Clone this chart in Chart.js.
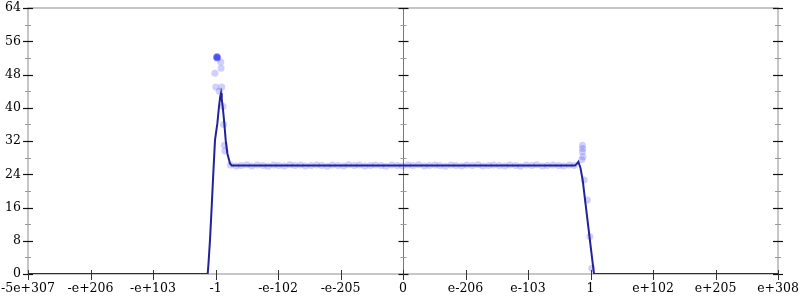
<!DOCTYPE html>
<html>
<head>
<meta charset="utf-8">
<script src="https://cdn.jsdelivr.net/npm/chart.js@4/dist/chart.umd.min.js"></script>
<style>
  html,body{margin:0;padding:0;background:#fff;}
  #c{display:block;}
</style>
</head>
<body>
<canvas id="c" width="800" height="300"></canvas>
<script>
// ====== Data ======
// x is in "tick slot" units: 0 = -5e+307 ... 6 = 0 ... 12 = e+308
const xTickLabels = ['-5e+307','-e+206','-e+103','-1','-e-102','-e-205','0','e-206','e-103','1','e+102','e+205','e+308'];
const yTicks = [0, 8, 16, 24, 32, 40, 48, 56, 64];
const yMinor = [4, 12, 20, 28, 36, 44, 52, 60];

// mean curve
const lineX = [0, 2.875, 2.89, 2.912, 2.939, 2.965, 2.992, 3.03, 3.056, 3.075, 3.088, 3.1, 3.115, 3.141, 3.163, 3.19, 3.232, 3.26, 6, 8.752, 8.78, 8.805, 8.84, 8.875, 8.939, 9.003, 9.056, 12];
const lineY = [0, 0, 3, 8.2, 16.2, 24.2, 32.2, 36.3, 40.3, 42.6, 43.5, 42.0, 40.3, 36.3, 32.2, 29.0, 26.6, 26.1, 26.1, 26.1, 26.5, 27.0, 25.5, 22.6, 14.6, 6.6, 0, 0];

// raw samples
const sampleX = [
  3.02, 3.025, 3.03, 3.015, 3.035, 3.02, 3.028,
  2.99, 3.085, 3.09, 3.005, 3.10, 3.12, 3.13, 3.14, 3.15, 3.06,
  3.24, 3.33, 3.41, 3.50, 3.58, 3.67, 3.76, 3.84, 3.93, 4.01, 4.10, 4.19, 4.27, 4.36, 4.44, 4.53,
  4.62, 4.70, 4.79, 4.87, 4.96, 5.05, 5.13, 5.22, 5.30, 5.39, 5.48, 5.56, 5.65, 5.73, 5.82, 5.91,
  5.99, 6.08, 6.16, 6.25, 6.34, 6.42, 6.51, 6.59, 6.68, 6.77, 6.85, 6.94, 7.02, 7.11, 7.20, 7.28,
  7.37, 7.45, 7.54, 7.63, 7.71, 7.80, 7.88, 7.97, 8.06, 8.14, 8.23, 8.31, 8.40, 8.49, 8.57, 8.66, 8.74,
  8.87, 8.875, 8.87, 8.88, 8.86, 8.90, 8.95, 8.99, 9.02
];
const sampleY = [
  52.3, 52.1, 52.3, 52.2, 52.0, 51.9, 52.2,
  48.3, 51.0, 49.5, 45.0, 45.0, 40.3, 36.0, 31.0, 29.6, 44.0,
  26.2, 26.0, 26.1, 26.3, 26.0, 26.2, 26.1, 25.9, 26.2, 26.1, 26.0, 26.3, 26.1, 26.2, 26.0, 26.1,
  26.2, 26.1, 25.9, 26.2, 26.1, 26.0, 26.3, 26.1, 26.2, 26.0, 26.1, 26.2, 26.1, 25.9, 26.2, 26.1,
  26.0, 26.2, 26.1, 26.3, 26.0, 26.1, 26.2, 26.1, 25.9, 26.2, 26.1, 26.0, 26.2, 26.1, 26.3, 26.0,
  26.1, 26.2, 26.1, 26.0, 26.2, 26.1, 25.9, 26.2, 26.1, 26.3, 26.0, 26.1, 26.2, 26.1, 26.0, 26.2, 26.1,
  31.0, 30.2, 29.4, 28.2, 27.5, 22.6, 17.8, 9.0, 1.4
];

// ====== Axis decorations ======
const axisDeco = {
  id: 'axisDeco',
  beforeDatasetsDraw(chart){
    const {ctx, chartArea: a, scales:{x, y}} = chart;
    ctx.save();
    // frame
    ctx.strokeStyle = '#b4b4b4'; ctx.lineWidth = 1.5;
    ctx.strokeRect(a.left, a.top, a.right - a.left, a.bottom - a.top);
    // middle axis at 0
    const xm = Math.round(x.getPixelForValue(6)) + 0.5;
    ctx.strokeStyle = '#777'; ctx.lineWidth = 1;
    ctx.beginPath(); ctx.moveTo(xm, a.top); ctx.lineTo(xm, a.bottom); ctx.stroke();

    const vAxes = [a.left, xm, a.right];
    vAxes.forEach(ax => {
      ctx.strokeStyle = '#999'; ctx.lineWidth = 1;
      yMinor.forEach(v => {
        const py = Math.round(y.getPixelForValue(v)) + 0.5;
        ctx.beginPath(); ctx.moveTo(ax - 3, py); ctx.lineTo(ax + 3, py); ctx.stroke();
      });
      ctx.strokeStyle = '#111'; ctx.lineWidth = 1.2;
      yTicks.forEach(v => {
        const py = Math.round(y.getPixelForValue(v)) + 0.5;
        ctx.beginPath(); ctx.moveTo(ax - 5, py); ctx.lineTo(ax + 5, py); ctx.stroke();
      });
    });
    // bottom ticks
    ctx.strokeStyle = '#333'; ctx.lineWidth = 1;
    xTickLabels.forEach((_, i) => {
      const px = Math.round(x.getPixelForValue(i)) + 0.5;
      ctx.beginPath(); ctx.moveTo(px, a.bottom - 4); ctx.lineTo(px, a.bottom + 6); ctx.stroke();
    });
    ctx.restore();
  }
};

// no auto padding for edge labels, layout.padding decides the plot box
function noPad(s){ s.paddingLeft = 0; s.paddingRight = 0; s.paddingTop = 0; s.paddingBottom = 0; }

// ====== Chart ======
const font = { family: '"DejaVu Serif", serif', size: 12.5 };

new Chart(document.getElementById('c'), {
  type: 'scatter',
  data: {
    datasets: [
      {
        type: 'scatter',
        data: sampleX.map((v, i) => ({ x: v, y: sampleY[i] })),
        pointRadius: 3.5,
        pointBorderWidth: 0,
        pointBackgroundColor: 'rgba(40,40,255,0.22)',
        order: 2
      },
      {
        type: 'line',
        data: lineX.map((v, i) => ({ x: v, y: lineY[i] })),
        borderColor: '#22229a',
        borderWidth: 2,
        pointRadius: 0,
        tension: 0,
        order: 1
      }
    ]
  },
  options: {
    responsive: false,
    animation: false,
    devicePixelRatio: 1,
    layout: { padding: { top: 8, right: 22, left: 0, bottom: 0 } },
    plugins: { legend: { display: false }, tooltip: { enabled: false } },
    scales: {
      x: {
        type: 'linear', min: 0, max: 12,
        afterBuildTicks: s => { s.ticks = xTickLabels.map((_, i) => ({ value: i })); },
        afterFit: s => { s.height = 26; noPad(s); },
        ticks: { callback: v => xTickLabels[v], autoSkip: false, maxRotation: 0, padding: 7, color: '#000', font },
        grid: { display: false, drawTicks: false },
        border: { display: false }
      },
      y: {
        min: 0, max: 64,
        afterBuildTicks: s => { s.ticks = yTicks.map(v => ({ value: v })); },
        afterFit: s => { s.width = 28; noPad(s); },
        ticks: { padding: 7, color: '#000', font },
        grid: { display: false, drawTicks: false },
        border: { display: false }
      }
    }
  },
  plugins: [axisDeco]
});
</script>
</body>
</html>
